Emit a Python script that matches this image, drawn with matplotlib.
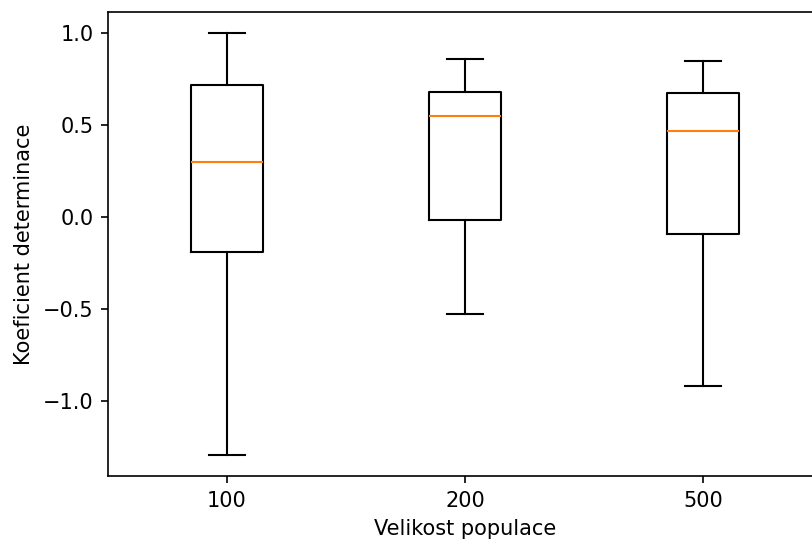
import matplotlib
matplotlib.use('Agg')
import matplotlib.pyplot as plt

# box statistics
labels = ['100', '200', '500']
whislo = [-1.293, -0.527, -0.918]
q1 = [-0.190, -0.016, -0.092]
med = [0.299, 0.549, 0.467]
q3 = [0.717, 0.679, 0.674]
whishi = [1.0, 0.859, 0.848]

stats = []
for i in range(len(labels)):
    stats.append({'label': labels[i], 'whislo': whislo[i], 'q1': q1[i],
                  'med': med[i], 'q3': q3[i], 'whishi': whishi[i], 'fliers': []})

fig, ax = plt.subplots(figsize=(812 / 150, 541 / 150), dpi=150)
fig.subplots_adjust(left=108 / 812, right=822 / 812, top=1 - 12 / 541, bottom=1 - 476 / 541)

ax.bxp(stats, widths=0.3)
ax.set_xlabel('Velikost populace')
ax.set_ylabel('Koeficient determinace')

fig.savefig('out.png', dpi=150)
